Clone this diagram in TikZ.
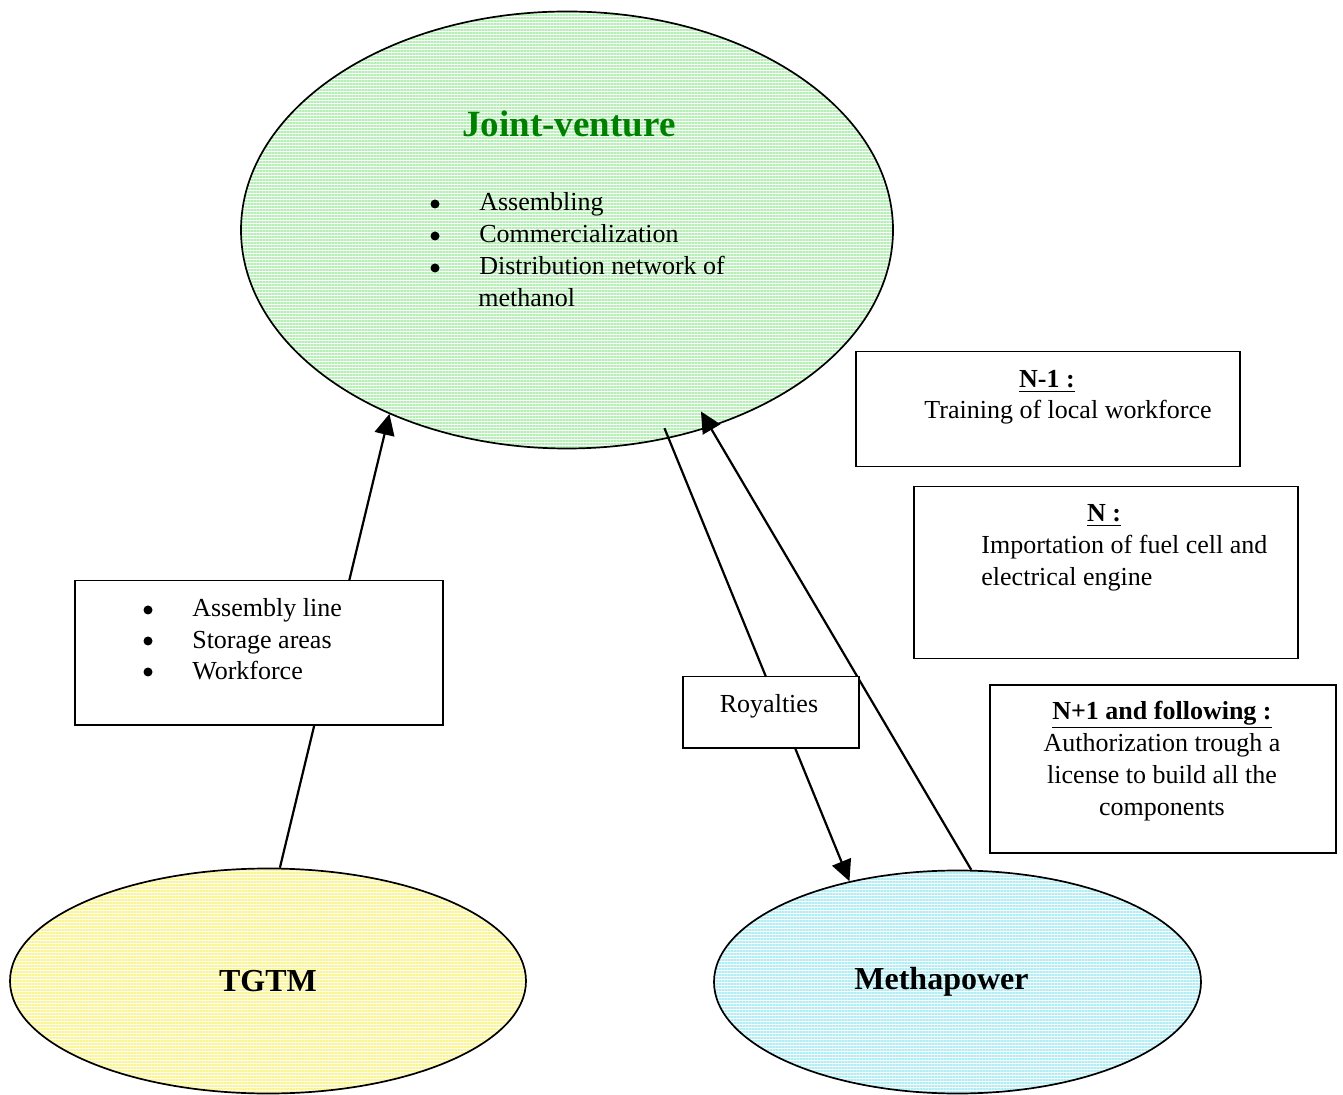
\documentclass[tikz,border=0pt]{standalone}
\usepackage{fontspec}
\setmainfont{Liberation Serif}
\usetikzlibrary{shapes.geometric,arrows.meta,patterns.meta}

\definecolor{jvgreen}{RGB}{0,128,0}
\definecolor{jvlines}{RGB}{180,240,180}
\definecolor{tglines}{RGB}{250,245,140}
\definecolor{mplines}{RGB}{175,238,245}

\begin{document}
\begin{tikzpicture}[x=0.5pt, y=-0.5pt,
  blob/.style={ellipse, draw=black, line width=0.85pt, inner sep=0pt},
  stripes/.style={pattern={Lines[angle=0, distance=1.5pt, line width=0.6pt]}, pattern color=#1},
  note/.style={draw=black, line width=0.75pt, fill=white, anchor=north west, inner sep=0pt},
  dot/.style={circle, fill=black, inner sep=0pt, minimum size=4.5pt},
  itemtext/.style={font=\fontsize{13}{16}\selectfont, inner sep=0pt, text height=9.5pt, text depth=2.5pt},
  txt/.style={font=\fontsize{13}{16}\selectfont, inner sep=0pt, anchor=base},
  head/.style={txt, font=\fontsize{13}{16}\selectfont\bfseries},
  flow/.style={line width=1.1pt, -{Triangle[length=10.5pt, width=10pt]}},
  ]
\useasboundingbox (0,0) rectangle (1343,1095);

\node[blob, stripes=jvlines, minimum width=326pt, minimum height=218.5pt] (jv) at (567,230) {};
\node[blob, stripes=tglines, minimum width=258pt, minimum height=112.5pt, label={[font=\fontsize{16}{19}\selectfont\bfseries]center:TGTM}] (tgtm) at (268,981) {};
\node[blob, stripes=mplines, minimum width=243.5pt, minimum height=111.5pt, label={[font=\fontsize{16}{19}\selectfont\bfseries, xshift=-8pt]center:Methapower}] (mp) at (957.5,982) {};

\node[anchor=base, font=\fontsize{18.5}{22}\selectfont\bfseries, text=jvgreen] (jvtitle) at (569,137) {Joint-venture};
\node[dot, label={[itemtext, label distance=19.5pt]right:Assembling}] (jv1) at (435,204) {};
\node[dot, label={[itemtext, label distance=19.5pt]right:Commercialization}] (jv2) at (435,236) {};
\node[dot, label={[itemtext, label distance=19.5pt]right:Distribution network of}] (jv3) at (435,268) {};
\node[itemtext, anchor=west] (jv4) at (478,300) {methanol};

\draw[flow] (tgtm.84) -- (jv.226);
\draw[flow, shorten <=-5.4pt] (jv.296) -- (mp.137);
\draw[flow, shorten >=-9pt] (mp.83) -- (jv.306);

\node[note, minimum width=184pt, minimum height=72pt] (asm) at (74,580) {};
\node[dot, label={[itemtext, label distance=19.5pt]right:Assembly line}] (asm1) at (148,610) {};
\node[dot, label={[itemtext, label distance=19.5pt]right:Storage areas}] (asm2) at (148,641) {};
\node[dot, label={[itemtext, label distance=19.5pt]right:Workforce}] (asm3) at (148,672) {};

\node[note, minimum width=88pt, minimum height=35.5pt] (roy) at (682,676) {};
\node[txt] (roytext) at (769,712) {Royalties};

\node[note, minimum width=192pt, minimum height=57.5pt] (n1) at (855,351) {};
\node[head] (n1head) at (1047,388) {\underline{N-1 :}};
\node[txt] (n1text) at (1068,419) {Training of local workforce};

\node[note, minimum width=192pt, minimum height=86pt] (n0) at (913,486) {};
\node[head] (n0head) at (1104,522) {\underline{N :}};
\node[txt, anchor=base west, align=left] (n0text) at (981,586) {Importation of fuel cell and\\electrical engine};

\node[note, minimum width=173pt, minimum height=84pt] (n2) at (989,684) {};
\node[head] (n2head) at (1162,719) {\underline{N+1 and following :}};
\node[txt, align=center] (n2text) at (1162,815) {Authorization trough a\\license to build all the\\components};
\end{tikzpicture}
\end{document}
